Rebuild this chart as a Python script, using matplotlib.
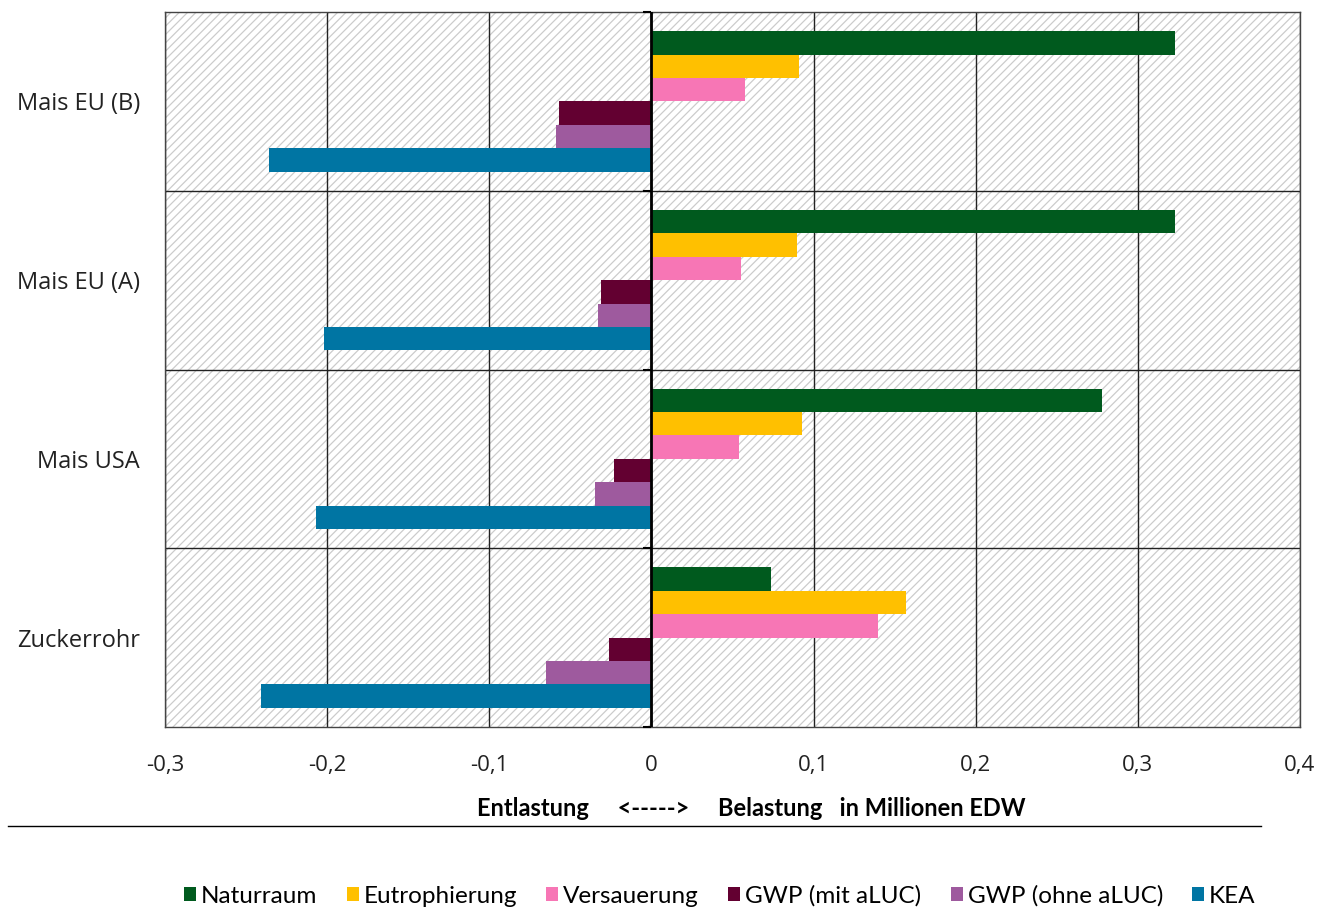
#!/usr/bin/env python3
"""Horizontal bar chart: Entlastung / Belastung in Millionen EDW."""

import matplotlib
matplotlib.use('Agg')
import matplotlib.pyplot as plt
from matplotlib.patches import Rectangle
from matplotlib.lines import Line2D
import numpy as np

# Data (top to bottom in the chart)
categories = ['Mais EU (B)', 'Mais EU (A)', 'Mais USA', 'Zuckerrohr']
series = ['Naturraum', 'Eutrophierung', 'Versauerung',
          'GWP (mit aLUC)', 'GWP (ohne aLUC)', 'KEA']
naturraum = [0.323, 0.323, 0.278, 0.074]
eutrophierung = [0.091, 0.090, 0.093, 0.157]
versauerung = [0.058, 0.055, 0.054, 0.140]
gwp_mit = [-0.057, -0.031, -0.023, -0.026]
gwp_ohne = [-0.059, -0.033, -0.035, -0.065]
kea = [-0.236, -0.202, -0.207, -0.241]
values = [naturraum, eutrophierung, versauerung, gwp_mit, gwp_ohne, kea]
colors = ['#005A1E', '#FFC000', '#F776B5', '#630031', '#9E5A9E', '#0075A3']
xticks = [-0.3, -0.2, -0.1, 0, 0.1, 0.2, 0.3, 0.4]
xticklabels = ['-0,3', '-0,2', '-0,1', '0', '0,1', '0,2', '0,3', '0,4']

plt.rcParams['hatch.linewidth'] = 0.9
plt.rcParams['hatch.color'] = '#cccccc'

fig = plt.figure(figsize=(13.33, 9.09), dpi=100)
ax = fig.add_axes([0.1238, 0.2002, 0.8514, 0.7866])

# hatched background
bg = Rectangle((0, 0), 1, 1, transform=ax.transAxes, facecolor='white',
               edgecolor='#cccccc', hatch='////', linewidth=0, zorder=0)
ax.add_patch(bg)

n = len(categories)
ypos = np.arange(n)[::-1]  # first category at the top
h = 0.131
for i, (name, vals, col) in enumerate(zip(series, values, colors)):
    ax.barh(ypos + (2.5 - i) * h, vals, height=h, color=col, label=name,
            zorder=3, linewidth=0)

ax.set_xlim(-0.3, 0.4)
ax.set_ylim(-0.5, n - 0.5)

# grid lines
for x in xticks:
    ax.axvline(x, color='#222222', lw=1.0, zorder=2)
for y in np.arange(n - 1) + 0.5:
    ax.axhline(y, color='#222222', lw=1.0, zorder=2)
ax.axvline(0, color='black', lw=2.0, zorder=4)
ax.plot([0] * (n + 1), np.arange(n + 1) - 0.5, linestyle='none',
        marker=0, markersize=6, markeredgewidth=1.5, color='black',
        zorder=4, clip_on=False)

for sp in ax.spines.values():
    sp.set_color('#444444')
    sp.set_linewidth(1.0)

ax.set_xticks(xticks)
ax.set_xticklabels(xticklabels, fontsize=16, family='Open Sans', color='#222222')
ax.set_yticks(ypos)
ax.set_yticklabels(categories, fontsize=17, family='Open Sans', color='#222222')
ax.tick_params(axis='both', length=0)
ax.tick_params(axis='x', pad=20)
ax.tick_params(axis='y', pad=18)

fig.text(0.564, 0.111, 'Entlastung     <----->     Belastung   in Millionen EDW',
         ha='center', va='center', fontsize=17, fontweight='bold',
         family='Lato')
fig.add_artist(Line2D([0.006, 0.946], [0.091, 0.091], color='black', lw=1.0))

ax.legend(loc='center', bbox_to_anchor=(0.54, 0.0145),
          bbox_transform=fig.transFigure, ncol=6, frameon=False,
          prop={'family': 'Lato', 'size': 17.5}, handlelength=0.5,
          handleheight=0.5, handletextpad=0.2, columnspacing=1.2)

plt.savefig('out.png', dpi=100)
